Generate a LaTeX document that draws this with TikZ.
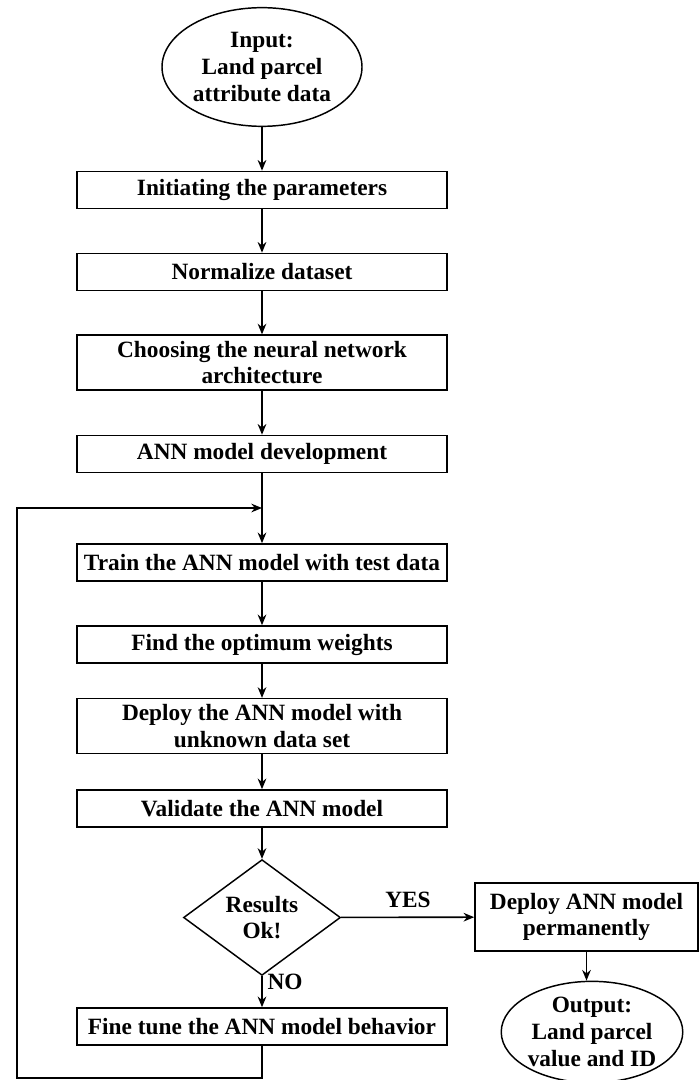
\documentclass[tikz,border=0pt]{standalone}
\usepackage{fontspec}
\setmainfont{Liberation Serif}
\usetikzlibrary{shapes.geometric,arrows.meta}
\begin{document}
\begin{tikzpicture}[x=0.75pt,y=-0.75pt,
  every node/.style={font=\bfseries\fontsize{17.5}{20}\selectfont, align=center, inner sep=0pt},
  pbox/.style={draw, line width=1.2pt, fill=white, minimum width=277.5pt, minimum height=27.75pt},
  tallbox/.style={pbox, minimum height=41pt},
  term/.style={draw, line width=1.1pt, ellipse, fill=white},
  dec/.style={draw, line width=1.1pt, diamond, minimum width=117.75pt, minimum height=66.75pt},
  arr/.style={draw, line width=1.2pt, -{Stealth[length=8pt,width=6.5pt]}},
  lbl/.style={font=\bfseries\fontsize{17.5}{20}\selectfont}
]
\useasboundingbox (0,0) rectangle (699,1080);
\node[term, minimum width=150pt, minimum height=89pt] (in) at (262,67) {Input:\\Land parcel\\attribute data};
\node[pbox] (b1) at (262,190) {Initiating the parameters};
\node[pbox] (b2) at (262,272) {Normalize dataset};
\node[tallbox] (b3) at (262,362.5) {Choosing the neural network\\architecture};
\node[pbox] (b4) at (262,454) {ANN model development};
\node[pbox] (b5) at (262,562.5) {Train the ANN model with test data};
\node[pbox] (b6) at (262,644.5) {Find the optimum weights};
\node[tallbox] (b7) at (262,726) {Deploy the ANN model with\\unknown data set};
\node[pbox] (b8) at (262,808.5) {Validate the ANN model};
\node[dec] (d) at (262,917.5) {Results\\Ok!};
\node[pbox, minimum width=167.25pt, minimum height=51pt] (dep) at (586.5,917) {Deploy ANN model\\permanently};
\node[term, minimum width=135pt, minimum height=76pt] (out) at (592,1032) {Output:\\Land parcel\\value and ID};
\node[pbox] (ft) at (262,1026.5) {Fine tune the ANN model behavior};
\node[lbl] (yes) at (408,900) {YES};
\node[lbl] (no) at (285,982) {NO};
\coordinate (j) at (262,508);
\coordinate (lb) at (17,1078);
\coordinate (lt) at (17,508);
\draw[arr] (in) -- (b1);
\draw[arr] (b1) -- (b2);
\draw[arr] (b2) -- (b3);
\draw[arr] (b3) -- (b4);
\draw[arr] (b4) -- (b5);
\draw[arr] (b5) -- (b6);
\draw[arr] (b6) -- (b7);
\draw[arr] (b7) -- (b8);
\draw[arr] (b8) -- (d);
\draw[arr] (d) -- (dep);
\draw[arr] (dep) -- (dep.south |- out.north);
\draw[arr] (d) -- (ft);
\draw[arr] (ft.south) |- (lb) -- (lt) -- (j);
\end{tikzpicture}
\end{document}
